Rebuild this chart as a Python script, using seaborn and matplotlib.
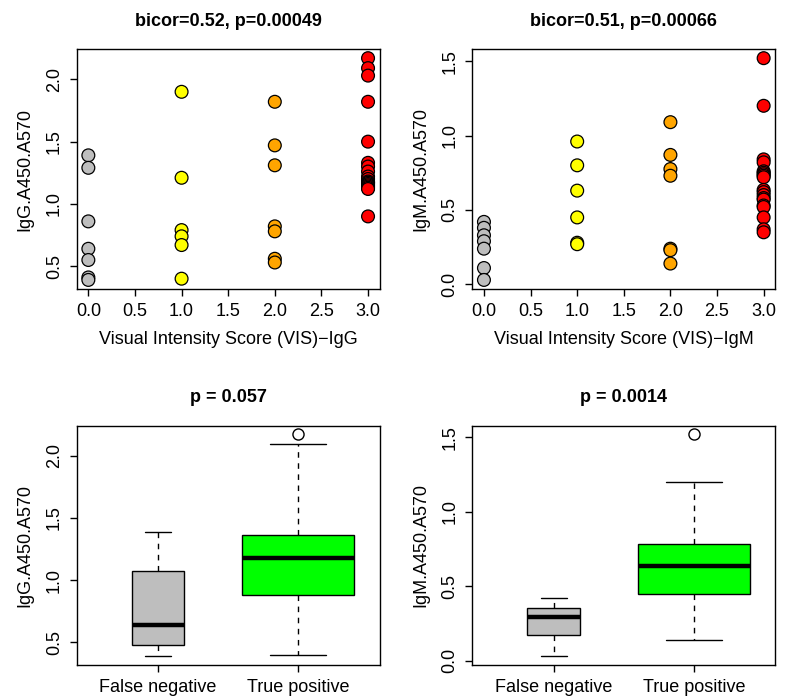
import numpy as np
import pandas as pd
import matplotlib
matplotlib.use("Agg")
import matplotlib.pyplot as plt
from matplotlib.ticker import MultipleLocator, FormatStrFormatter
import seaborn as sns

# visual intensity score groups and their colours
vis_levels = [0, 1, 2, 3]
vis_colors = ["#BEBEBE", "#FFFF00", "#FFA500", "#FF0000"]

# IgG A450/A570 by VIS-IgG
igg_vis0 = [1.39, 1.29, 0.86, 0.64, 0.55, 0.41, 0.39]
igg_vis1 = [1.90, 1.21, 0.79, 0.74, 0.67, 0.40]
igg_vis2 = [1.82, 1.47, 1.31, 0.82, 0.78, 0.56, 0.53]
igg_vis3 = [2.17, 2.09, 2.03, 1.82, 1.50, 1.33, 1.30, 1.26, 1.22, 1.20,
            1.18, 1.17, 1.17, 1.16, 1.15, 1.14, 1.13, 1.12, 0.90]

# IgM A450/A570 by VIS-IgM
igm_vis0 = [0.42, 0.38, 0.33, 0.29, 0.24, 0.11, 0.03]
igm_vis1 = [0.96, 0.80, 0.63, 0.45, 0.28, 0.27]
igm_vis2 = [1.09, 0.87, 0.775, 0.73, 0.24, 0.23, 0.14]
igm_vis3 = [1.52, 1.20, 0.84, 0.82, 0.76, 0.75, 0.74, 0.73, 0.72, 0.635,
            0.62, 0.60, 0.58, 0.57, 0.53, 0.52, 0.45, 0.37, 0.35]

groups = ["False negative", "True positive"]
group_colors = ["#BEBEBE", "#00FF00"]

titles_top = ["bicor=0.52, p=0.00049", "bicor=0.51, p=0.00066"]
titles_bottom = ["p = 0.057", "p = 0.0014"]
xlabels_top = ["Visual Intensity Score (VIS)\u2212IgG", "Visual Intensity Score (VIS)\u2212IgM"]
ylabels = ["IgG.A450.A570", "IgM.A450.A570"]


def make_df(series):
    rows = []
    for lev, vals in zip(vis_levels, series):
        for v in vals:
            rows.append({"vis": lev, "value": v,
                         "group": groups[0] if lev == 0 else groups[1]})
    return pd.DataFrame(rows)


df_igg = make_df([igg_vis0, igg_vis1, igg_vis2, igg_vis3])
df_igm = make_df([igm_vis0, igm_vis1, igm_vis2, igm_vis3])

sns.set_style("ticks")
plt.rcParams["font.family"] = ["Liberation Sans", "DejaVu Sans"]
plt.rcParams["font.size"] = 13
for key in ["text.color", "axes.labelcolor", "xtick.color", "ytick.color",
            "xtick.labelcolor", "ytick.labelcolor"]:
    plt.rcParams[key] = "black"

fig = plt.figure(figsize=(7.85, 6.96), dpi=100)
W, H = 785, 696
lefts = [76.7, 472.3]
tops = [49.3, 425.5]
aw, ah = 303, 239.5


def style_axes(ax):
    for sp in ax.spines.values():
        sp.set_visible(True)
        sp.set_color("black")
        sp.set_linewidth(1.0)
    ax.tick_params(axis="both", direction="out", length=5, width=1,
                   color="black", labelcolor="black", pad=5, labelsize=13)
    for lab in ax.get_yticklabels():
        lab.set_rotation(90)
        lab.set_va("center")
    ax.yaxis.set_major_locator(MultipleLocator(0.5))
    ax.yaxis.set_major_formatter(FormatStrFormatter("%.1f"))


def set_ylim_from(ax, values):
    lo, hi = min(values), max(values)
    pad = 0.04 * (hi - lo)
    ax.set_ylim(lo - pad, hi + pad)


palette = dict(zip(vis_levels, vis_colors))

for i, df in enumerate([df_igg, df_igm]):
    # scatter panel
    ax = fig.add_axes([lefts[i] / W, 1 - (tops[0] + ah) / H, aw / W, ah / H])
    sns.scatterplot(data=df, x="vis", y="value", hue="vis", palette=palette,
                    s=85, edgecolor="black", linewidth=0.9, legend=False,
                    ax=ax, zorder=3)
    ax.set_xlim(min(vis_levels) - 0.04 * 3.125, max(vis_levels) + 0.04 * 3.125)
    set_ylim_from(ax, df["value"])
    ax.xaxis.set_major_locator(MultipleLocator(0.5))
    ax.xaxis.set_major_formatter(FormatStrFormatter("%.1f"))
    style_axes(ax)
    ax.set_title(titles_top[i], fontweight="bold", fontsize=13, pad=17,
                 color="black")
    ax.set_xlabel(xlabels_top[i], fontsize=13, labelpad=8, color="black")
    ax.set_ylabel(ylabels[i], fontsize=13, labelpad=9, color="black")

    # box panel
    ax = fig.add_axes([lefts[i] / W, 1 - (tops[1] + ah) / H, aw / W, ah / H])
    counts = df["group"].value_counts()
    nmax = counts.max()
    for g, c in zip(groups, group_colors):
        sub = df[df["group"] == g]
        w = 0.8 * np.sqrt(len(sub) / nmax)
        sns.boxplot(data=sub, x="group", y="value", order=groups, color=c,
                    saturation=1, width=w, linecolor="black", linewidth=1,
                    whiskerprops=dict(linestyle=(0, (4, 4))),
                    medianprops=dict(linewidth=3.2, color="black"),
                    flierprops=dict(marker="o", markerfacecolor="white",
                                    markeredgecolor="black", markersize=8,
                                    markeredgewidth=1),
                    ax=ax)
    ax.set_xlim(-0.58, 1.58)
    set_ylim_from(ax, df["value"])
    style_axes(ax)
    ax.set_title(titles_bottom[i], fontweight="bold", fontsize=13, pad=17,
                 color="black")
    ax.set_xlabel("")
    ax.set_ylabel(ylabels[i], fontsize=13, labelpad=9, color="black")

fig.savefig("out.png", dpi=100)
